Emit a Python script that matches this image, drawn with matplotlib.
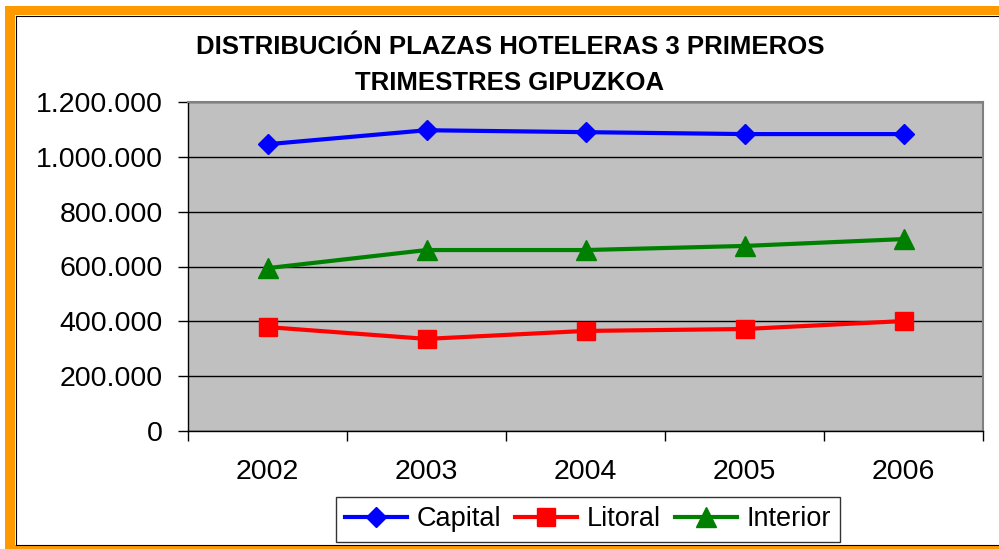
import matplotlib
matplotlib.use("Agg")
import matplotlib.pyplot as plt
from matplotlib.patches import Rectangle
from matplotlib.lines import Line2D
from matplotlib.transforms import IdentityTransform
from matplotlib.ticker import FuncFormatter, FixedLocator

years = ["2002", "2003", "2004", "2005", "2006"]
capital = [1046000, 1097000, 1090000, 1083000, 1083000]
litoral = [379000, 336000, 365000, 372000, 401000]
interior = [594000, 660000, 660000, 675000, 700000]
series_names = ["Capital", "Litoral", "Interior"]
title = "DISTRIBUCIÓN PLAZAS HOTELERAS 3 PRIMEROS\nTRIMESTRES GIPUZKOA"

plt.rcParams['font.family'] = ['Liberation Sans', 'DejaVu Sans']

W, H = 999, 549
fig = plt.figure(figsize=(W/100, H/100), dpi=100)
fig.patch.set_facecolor("white")

ax = fig.add_axes([188/W, (H-431)/H, (983-188)/W, (431-102)/H])
ax.set_facecolor("#C0C0C0")

x = list(range(len(years)))
ax.plot(x, capital, color="#0000FF", lw=3, marker="D", ms=10.5, mec="#0000FF", label=series_names[0], zorder=3)
ax.plot(x, litoral, color="#FF0000", lw=3, marker="s", ms=13.5, mec="#FF0000", label=series_names[1], zorder=3)
ax.plot(x, interior, color="#008000", lw=3, marker="^", ms=15, mec="#008000", label=series_names[2], zorder=3)

ax.set_xlim(-0.5, len(years) - 0.5)
ax.set_ylim(0, 1200000)
ax.set_yticks(range(0, 1200001, 200000))
ax.yaxis.set_major_formatter(FuncFormatter(lambda v, p: "0" if v == 0 else f"{int(v):,}".replace(",", ".")))
ax.grid(axis="y", color="black", lw=1)
ax.set_axisbelow(True)

ax.set_xticks(x)
ax.set_xticklabels(years)
ax.xaxis.set_minor_locator(FixedLocator([i - 0.5 for i in range(len(years) + 1)]))
ax.tick_params(axis="x", which="major", length=0, pad=20, labelsize=20.5)
ax.tick_params(axis="x", which="minor", length=7, width=1, direction="out")
ax.tick_params(axis="y", length=7, width=1, direction="out", pad=11, labelsize=20.5)

for s in ["top", "right"]:
    ax.spines[s].set_color("#808080")
    ax.spines[s].set_linewidth(1.5)
for s in ["left", "bottom"]:
    ax.spines[s].set_color("black")
    ax.spines[s].set_linewidth(1)

fig.text(510/W, (H-65)/H, title, ha="center", va="center", fontsize=18.5,
         fontweight="bold", linespacing=1.6)

leg = ax.legend(loc="upper center", bbox_to_anchor=(588/W, (H-497)/H),
                bbox_transform=fig.transFigure, ncol=3, fontsize=19.5,
                frameon=True, fancybox=False, edgecolor="black",
                handlelength=2.3, handletextpad=0.35, columnspacing=0.5,
                borderpad=0.35, borderaxespad=0)
leg.get_frame().set_linewidth(1)

# orange border (filled bands, display pixel coords, origin bottom-left)
orange = "#FF9900"
idt = IdentityTransform()
for (x0, y0, w, h) in [(5, H-15, W, 9),      # top band
                       (5, 0, 10, H-6),      # left band
                       (5, 0, W, 4)]:        # bottom band
    fig.patches.append(Rectangle((x0, y0), w, h, transform=idt, facecolor=orange,
                                 edgecolor="none", zorder=10))
for xs, ys in [([15.5, 15.5], [4.5, H-15.5]),
               ([15.5, W], [H-15.5, H-15.5]),
               ([15.5, W], [4.5, 4.5])]:
    fig.lines.append(Line2D(xs, ys, transform=idt, color="black", lw=0.8, zorder=11))

fig.savefig("out.png", dpi=100, facecolor="white")
